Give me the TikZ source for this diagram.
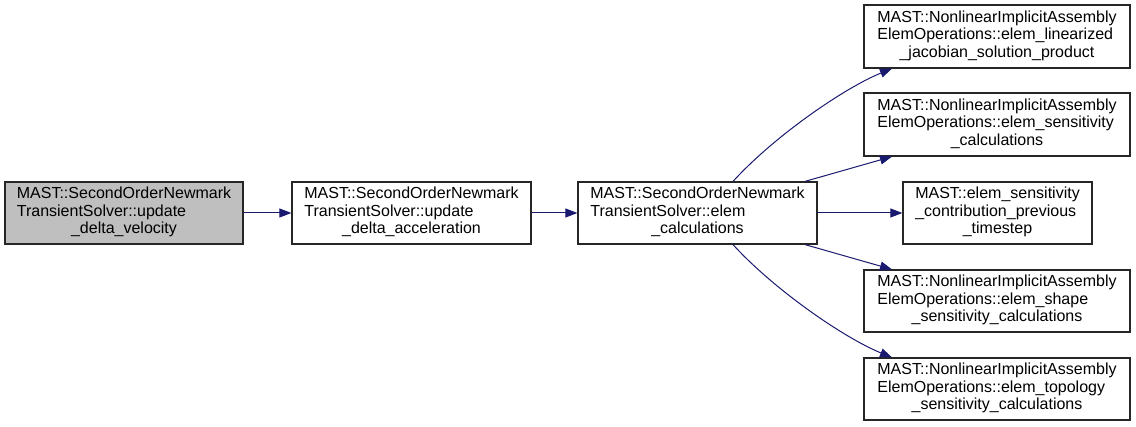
\documentclass[tikz,border=0pt]{standalone}
\usepackage{fontspec}
\setmainfont{Liberation Sans}
\usetikzlibrary{arrows.meta}
\newcommand{\dxlab}[3]{\begin{tabular}{@{}l@{}}#1\\#2\\\multicolumn{1}{@{}c@{}}{#3}\end{tabular}}
\definecolor{dxgray}{HTML}{BFBFBF}
\definecolor{dxedge}{HTML}{191970}
\tikzset{
  dxbox/.style={draw=black!85, line width=1.2pt, rectangle, inner sep=0pt, minimum height=62pt,
    font=\fontsize{16}{17.5}\selectfont},
  dxarrow/.style={draw=dxedge, line width=1pt, -{Triangle[length=12pt,width=9pt]}},
}
\begin{document}
\begin{tikzpicture}[x=1pt,y=-1pt]
\useasboundingbox (0,0) rectangle (1136,427);
\node[dxbox, fill=dxgray, minimum width=238pt] (n1) at (124,213)
  {\dxlab{MAST::SecondOrderNewmark}{TransientSolver::update}{\_delta\_velocity}};
\node[dxbox, fill=white, minimum width=239pt] (n2) at (411.5,213)
  {\dxlab{MAST::SecondOrderNewmark}{TransientSolver::update}{\_delta\_acceleration}};
\node[dxbox, fill=white, minimum width=239pt] (n3) at (697.5,213)
  {\dxlab{MAST::SecondOrderNewmark}{TransientSolver::elem}{\_calculations}};
\node[dxbox, minimum width=266pt, minimum height=63pt] (r1) at (997,36.5)
  {\dxlab{MAST::NonlinearImplicitAssembly}{ElemOperations::elem\_linearized}{\_jacobian\_solution\_product}};
\node[dxbox, minimum width=266pt, minimum height=63pt] (r2) at (997,124.5)
  {\dxlab{MAST::NonlinearImplicitAssembly}{ElemOperations::elem\_sensitivity}{\_calculations}};
\node[dxbox, minimum width=189pt] (r3) at (997.5,213)
  {\dxlab{MAST::elem\_sensitivity}{\_contribution\_previous}{\_timestep}};
\node[dxbox, minimum width=266pt] (r4) at (997,301)
  {\dxlab{MAST::NonlinearImplicitAssembly}{ElemOperations::elem\_shape}{\_sensitivity\_calculations}};
\node[dxbox, minimum width=266pt] (r5) at (997,389)
  {\dxlab{MAST::NonlinearImplicitAssembly}{ElemOperations::elem\_topology}{\_sensitivity\_calculations}};

\draw[dxarrow] (n1.east) -- (n2.west);
\draw[dxarrow] (n2.east) -- (n3.west);
\draw[dxarrow] ([xshift=35.5pt]n3.north) .. controls +(42,-46) and +(-47,19) .. ([xshift=-105pt]r1.south);
\draw[dxarrow] ([xshift=107.5pt]n3.north) -- ([xshift=-105pt]r2.south);
\draw[dxarrow] (n3.east) -- (r3.west);
\draw[dxarrow] ([xshift=107.5pt]n3.south) -- ([xshift=-105pt]r4.north);
\draw[dxarrow] ([xshift=35.5pt]n3.south) .. controls +(42,46) and +(-47,-19) .. ([xshift=-105pt]r5.north);
\end{tikzpicture}
\end{document}
